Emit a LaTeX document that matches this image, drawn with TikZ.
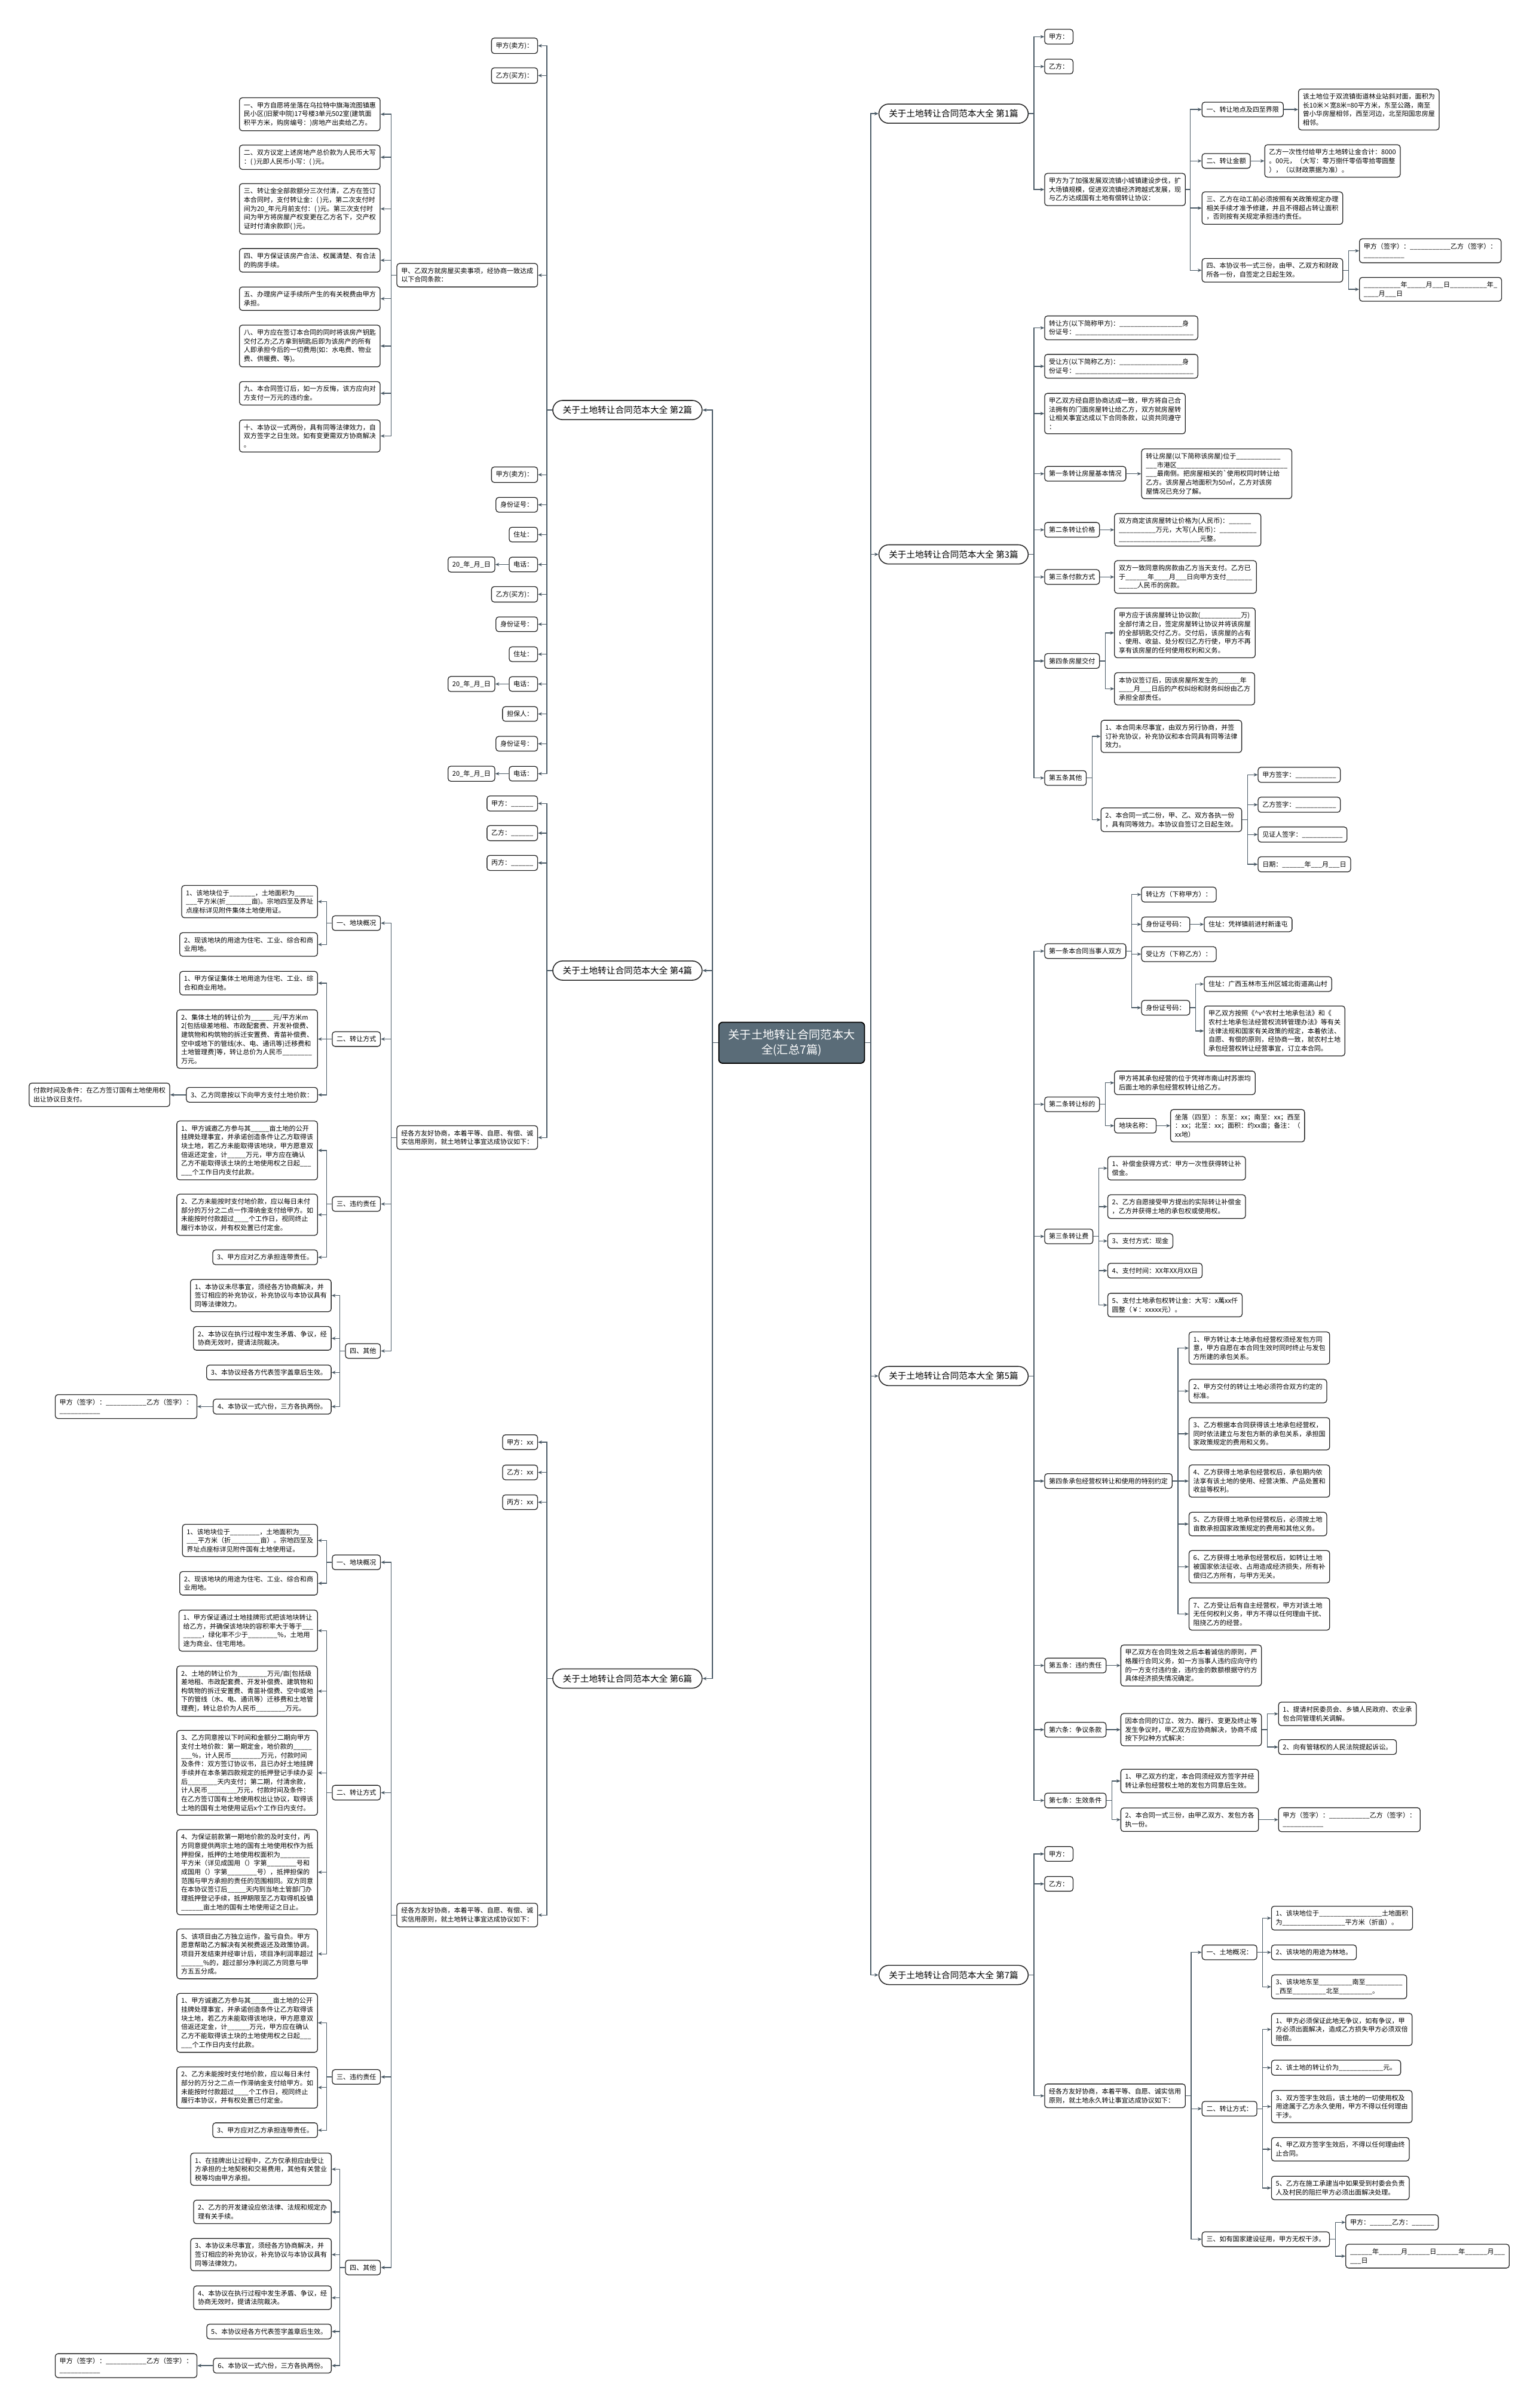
\documentclass[tikz,border=0pt]{standalone}
\usepackage{fontspec}
\setmainfont{Noto Sans CJK SC}
\usetikzlibrary{arrows.meta}
\definecolor{linkc}{RGB}{74,90,102}
\definecolor{boxline}{RGB}{38,38,38}
\definecolor{hubfill}{RGB}{90,108,120}
\newcommand{\blk}[1]{\foreach \bi in {1,...,#1}{\_}}

\begin{document}
\begin{tikzpicture}[x=1pt,y=-1pt,>={Stealth[length=2.6pt,width=2.2pt]},
  box/.style={draw=boxline,fill=white,rounded corners=1.8pt,line width=0.5pt,align=left,
    inner xsep=2.8pt,inner ysep=2.8pt,font=\fontsize{4.3}{5.7}\selectfont},
  pill/.style={draw=boxline,fill=white,rounded corners=6.4pt,line width=0.6pt,
    inner xsep=6.5pt,inner ysep=3.6pt,font=\fontsize{5.7}{6.8}\selectfont},
  hub/.style={draw=black,fill=hubfill,text=white,rounded corners=2.5pt,line width=0.7pt,
    align=center,inner xsep=6.2pt,inner ysep=4.6pt,font=\fontsize{7.5}{9.7}\selectfont},
  link/.style={draw=linkc,line width=0.55pt,->}]

\fill[white] (0,0) rectangle (996,1568);
\useasboundingbox (0,0) rectangle (996,1568);

\node[hub] (root) at (515.5,679) {关于土地转让合同范本大\\全(汇总7篇)};

\node[pill,anchor=west] (a1) at (572,74) {关于土地转让合同范本大全 第1篇};
\node[pill,anchor=west] (a3) at (572,361) {关于土地转让合同范本大全 第3篇};
\node[pill,anchor=west] (a5) at (572,896) {关于土地转让合同范本大全 第5篇};
\node[pill,anchor=west] (a7) at (572,1286) {关于土地转让合同范本大全 第7篇};
\node[pill,anchor=east] (a2) at (457.5,267) {关于土地转让合同范本大全 第2篇};
\node[pill,anchor=east] (a4) at (457.5,632) {关于土地转让合同范本大全 第4篇};
\node[pill,anchor=east] (a6) at (457.5,1093) {关于土地转让合同范本大全 第6篇};

\draw[link] (root.east) -- ++(3.8,0) |- (a1.west);
\draw[link] (root.east) -- ++(3.8,0) |- (a3.west);
\draw[link] (root.east) -- ++(3.8,0) |- (a5.west);
\draw[link] (root.east) -- ++(3.8,0) |- (a7.west);
\draw[link] (root.west) -- ++(-3.8,0) |- (a2.east);
\draw[link] (root.west) -- ++(-3.8,0) |- (a4.east);
\draw[link] (root.west) -- ++(-3.8,0) |- (a6.east);

\node[box,anchor=west] (b1jia) at (680,23.9) {甲方：};
\node[box,anchor=west] (b1yi) at (680,43.3) {乙方：};
\node[box,anchor=west] (b1main) at (680,123.4) {甲方为了加强发展双流镇小城镇建设步伐，扩\\大场镇规模，促进双流镇经济跨越式发展，现\\与乙方达成国有土地有偿转让协议：};
\node[box,anchor=west] (b1s1) at (782.5,71.3) {一、转让地点及四至界限};
\node[box,anchor=west] (b1s1x) at (845.3,71.3) {该土地位于双流镇街道林业站斜对面，面积为\\长10米×宽8米=80平方米，东至公路，南至\\曾小华房屋相邻，西至河边，北至阳国忠房屋\\相邻。};
\node[box,anchor=west] (b1s2) at (782.5,104.8) {二、转让金额};
\node[box,anchor=west] (b1s2x) at (823.3,104.8) {乙方一次性付给甲方土地转让金合计：8000\\。00元，（大写：零万捌仟零佰零拾零圆整\\），（以财政票据为准）。};
\node[box,anchor=west] (b1s3) at (782.5,135.5) {三、乙方在动工前必须按照有关政策规定办理\\相关手续才准予修建，并且不得超占转让面积\\，否则按有关规定承担违约责任。};
\node[box,anchor=west] (b1s4) at (782.5,176) {四、本协议书一式三份，由甲、乙双方和财政\\所各一份，自签定之日起生效。};
\node[box,anchor=west] (b1s4a) at (885,163.3) {甲方（签字）：\blk{11}乙方（签字）：\\\blk{11}};
\node[box,anchor=west] (b1s4b) at (885,188.4) {\blk{10}年\blk{5}月\blk{3}日\blk{10}年\_\\\blk{4}月\blk{3}日};

\draw[link] (a1.east) -- ++(3.5,0) |- (b1jia.west);
\draw[link] (a1.east) -- ++(3.5,0) |- (b1yi.west);
\draw[link] (a1.east) -- ++(3.5,0) |- (b1main.west);
\draw[link] (b1main.east) -- ++(3,0) |- (b1s1.west);
\draw[link] (b1main.east) -- ++(3,0) |- (b1s2.west);
\draw[link] (b1main.east) -- ++(3,0) |- (b1s3.west);
\draw[link] (b1main.east) -- ++(3,0) |- (b1s4.west);
\draw[link] (b1s1.east) -- (b1s1x.west);
\draw[link] (b1s2.east) -- (b1s2x.west);
\draw[link] (b1s4.east) -- ++(3.5,0) |- (b1s4a.west);
\draw[link] (b1s4.east) -- ++(3.5,0) |- (b1s4b.west);

\node[box,anchor=west] (b3p1) at (680,213.5) {转让方(以下简称甲方)：\blk{17}身\\份证号：\blk{32}};
\node[box,anchor=west] (b3p2) at (680,238.5) {受让方(以下简称乙方)：\blk{17}身\\份证号：\blk{32}};
\node[box,anchor=west] (b3intro) at (680,269.3) {甲乙双方经自愿协商达成一致，甲方将自己合\\法拥有的门面房屋转让给乙方，双方就房屋转\\让相关事宜达成以下合同条款，以资共同遵守\\：};
\node[box,anchor=west] (b3c1) at (680,308.5) {第一条转让房屋基本情况};
\node[box,anchor=west] (b3c1x) at (743.1,308.5) {转让房屋(以下简称该房屋)位于\blk{12}\\\blk{3}市港区\blk{30}\\\blk{3}最南侧。把房屋相关的\textasciigrave 使用权同时转让给\\乙方。该房屋占地面积为50㎡，乙方对该房\\屋情况已充分了解。};
\node[box,anchor=west] (b3c2) at (680,345) {第二条转让价格};
\node[box,anchor=west] (b3c2x) at (725.5,345) {双方商定该房屋转让价格为(人民币)：\blk{6}\\\blk{10}万元，大写(人民币)：\blk{10}\\\blk{22}元整。};
\node[box,anchor=west] (b3c3) at (680,375.7) {第三条付款方式};
\node[box,anchor=west] (b3c3x) at (725.5,375.7) {双方一致同意购房款由乙方当天支付。乙方已\\于\blk{6}年\blk{4}月\blk{3}日向甲方支付\blk{7}\\\blk{5}人民币的房款。};
\node[box,anchor=west] (b3c4) at (680,430.4) {第四条房屋交付};
\node[box,anchor=west] (b3c4a) at (725.5,412.1) {甲方应于该房屋转让协议款(\blk{11}万)\\全部付清之日，签定房屋转让协议并将该房屋\\的全部钥匙交付乙方。交付后，该房屋的占有\\、使用、收益、处分权归乙方行使，甲方不再\\享有该房屋的任何使用权利和义务。};
\node[box,anchor=west] (b3c4b) at (725.5,448.5) {本协议签订后，因该房屋所发生的\blk{6}年\\\blk{4}月\blk{3}日后的产权纠纷和财务纠纷由乙方\\承担全部责任。};
\node[box,anchor=west] (b3c5) at (680,506.6) {第五条其他};
\node[box,anchor=west] (b3c5a) at (716.7,479.5) {1、本合同未尽事宜，由双方另行协商，并签\\订补充协议，补充协议和本合同具有同等法律\\效力。};
\node[box,anchor=west] (b3c5b) at (716.7,533.8) {2、本合同一式二份，甲、乙、双方各执一份\\，具有同等效力。本协议自签订之日起生效。};
\node[box,anchor=west] (b3s1) at (819,504.5) {甲方签字：\blk{11}};
\node[box,anchor=west] (b3s2) at (819,524) {乙方签字：\blk{11}};
\node[box,anchor=west] (b3s3) at (819,543.4) {见证人签字：\blk{11}};
\node[box,anchor=west] (b3s4) at (819,562.8) {日期：\blk{6}年\blk{3}月\blk{3}日};

\draw[link] (a3.east) -- ++(3.5,0) |- (b3p1.west);
\draw[link] (a3.east) -- ++(3.5,0) |- (b3p2.west);
\draw[link] (a3.east) -- ++(3.5,0) |- (b3intro.west);
\draw[link] (a3.east) -- ++(3.5,0) |- (b3c1.west);
\draw[link] (a3.east) -- ++(3.5,0) |- (b3c2.west);
\draw[link] (a3.east) -- ++(3.5,0) |- (b3c3.west);
\draw[link] (a3.east) -- ++(3.5,0) |- (b3c4.west);
\draw[link] (a3.east) -- ++(3.5,0) |- (b3c5.west);
\draw[link] (b3c1.east) -- (b3c1x.west);
\draw[link] (b3c2.east) -- (b3c2x.west);
\draw[link] (b3c3.east) -- (b3c3x.west);
\draw[link] (b3c4.east) -- ++(3.5,0) |- (b3c4a.west);
\draw[link] (b3c4.east) -- ++(3.5,0) |- (b3c4b.west);
\draw[link] (b3c5.east) -- ++(3.5,0) |- (b3c5a.west);
\draw[link] (b3c5.east) -- ++(3.5,0) |- (b3c5b.west);
\draw[link] (b3c5b.east) -- ++(3.5,0) |- (b3s1.west);
\draw[link] (b3c5b.east) -- ++(3.5,0) |- (b3s2.west);
\draw[link] (b3c5b.east) -- ++(3.5,0) |- (b3s3.west);
\draw[link] (b3c5b.east) -- ++(3.5,0) |- (b3s4.west);

\node[box,anchor=west] (b5c1) at (680,619.3) {第一条本合同当事人双方};
\node[box,anchor=west] (b5c1a) at (743.1,582.5) {转让方（下称甲方）：};
\node[box,anchor=west] (b5c1b) at (743.1,601.9) {身份证号码：};
\node[box,anchor=west] (b5c1bx) at (783.9,601.9) {住址：凭祥镇前进村新逢屯};
\node[box,anchor=west] (b5c1c) at (743.1,621.3) {受让方（下称乙方）：};
\node[box,anchor=west] (b5c1d) at (743.1,656.2) {身份证号码：};
\node[box,anchor=west] (b5c1d1) at (783.9,640.8) {住址：广西玉林市玉州区城北街道高山村};
\node[box,anchor=west] (b5c1d2) at (783.9,671.3) {甲乙双方按照《\^{}v\^{}农村土地承包法》和《\\农村土地承包法经营权流转管理办法》等有关\\法律法规和国家有关政策的规定，本着依法、\\自愿、有偿的原则，经协商一致，就农村土地\\承包经营权转让经营事宜，订立本合同。};
\node[box,anchor=west] (b5c2) at (680,719.1) {第二条转让标的};
\node[box,anchor=west] (b5c2a) at (725.5,705.1) {甲方将其承包经营的位于凭祥市南山村苏崇均\\后面土地的承包经营权转让给乙方。};
\node[box,anchor=west] (b5c2b) at (725.5,733) {地块名称：};
\node[box,anchor=west] (b5c2bx) at (762,733) {坐落（四至）：东至：xx；南至：xx；西至\\：xx；北至：xx；面积：约xx亩；备注：（\\xx地）};
\node[box,anchor=west] (b5c3) at (680,805.1) {第三条转让费};
\node[box,anchor=west] (b5c3a) at (721.1,760.7) {1、补偿金获得方式：甲方一次性获得转让补\\偿金。};
\node[box,anchor=west] (b5c3b) at (721.1,785.7) {2、乙方自愿接受甲方提出的实际转让补偿金\\，乙方并获得土地的承包权或使用权。};
\node[box,anchor=west] (b5c3c) at (721.1,808.1) {3、支付方式：现金};
\node[box,anchor=west] (b5c3d) at (721.1,827.4) {4、支付时间：XX年XX月XX日};
\node[box,anchor=west] (b5c3e) at (721.1,849.8) {5、支付土地承包权转让金：大写：x萬xx仟\\圆整（￥：xxxxx元）。};
\node[box,anchor=west] (b5c4) at (680,964.4) {第四条承包经营权转让和使用的特别约定};
\node[box,anchor=west] (b5c4a) at (774,877.8) {1、甲方转让本土地承包经营权须经发包方同\\意，甲方自愿在本合同生效时同时终止与发包\\方所建的承包关系。};
\node[box,anchor=west] (b5c4b) at (774,905.8) {2、甲方交付的转让土地必须符合双方约定的\\标准。};
\node[box,anchor=west] (b5c4c) at (774,933.6) {3、乙方根据本合同获得该土地承包经营权，\\同时依法建立与发包方新的承包关系，承担国\\家政策规定的费用和义务。};
\node[box,anchor=west] (b5c4d) at (774,964.4) {4、乙方获得土地承包经营权后，承包期内依\\法享有该土地的使用、经营决策、产品处置和\\收益等权利。};
\node[box,anchor=west] (b5c4e) at (774,992.4) {5、乙方获得土地承包经营权后，必须按土地\\亩数承担国家政策规定的费用和其他义务。};
\node[box,anchor=west] (b5c4f) at (774,1020.2) {6、乙方获得土地承包经营权后，如转让土地\\被国家依法征收、占用造成经济损失，所有补\\偿归乙方所有，与甲方无关。};
\node[box,anchor=west] (b5c4g) at (774,1051) {7、乙方受让后有自主经营权，甲方对该土地\\无任何权利义务，甲方不得以任何理由干扰、\\阻挠乙方的经营。};
\node[box,anchor=west] (b5c5) at (680,1084.5) {第五条：违约责任};
\node[box,anchor=west] (b5c5x) at (729.6,1084.5) {甲乙双方在合同生效之后本着诚信的原则，严\\格履行合同义务，如一方当事人违约应向守约\\的一方支付违约金，违约金的数额根据守约方\\具体经济损失情况确定。};
\node[box,anchor=west] (b5c6) at (680,1126.3) {第六条：争议条款};
\node[box,anchor=west] (b5c6x) at (729.6,1126.3) {因本合同的订立、效力、履行、变更及终止等\\发生争议时，甲乙双方应协商解决，协商不成\\按下列2种方式解决：};
\node[box,anchor=west] (b5c6a) at (832.3,1116) {1、提请村民委员会、乡镇人民政府、农业承\\包合同管理机关调解。};
\node[box,anchor=west] (b5c6b) at (832.3,1137.6) {2、向有管辖权的人民法院提起诉讼。};
\node[box,anchor=west] (b5c7) at (680,1172.4) {第七条：生效条件};
\node[box,anchor=west] (b5c7a) at (729.6,1159.7) {1、甲乙双方约定，本合同须经双方签字并经\\转让承包经营权土地的发包方同意后生效。};
\node[box,anchor=west] (b5c7b) at (729.6,1184.9) {2、本合同一式三份，由甲乙双方、发包方各\\执一份。};
\node[box,anchor=west] (b5c7bx) at (832.3,1184.9) {甲方（签字）：\blk{11}乙方（签字）：\\\blk{11}};

\draw[link] (a5.east) -- ++(3.5,0) |- (b5c1.west);
\draw[link] (a5.east) -- ++(3.5,0) |- (b5c2.west);
\draw[link] (a5.east) -- ++(3.5,0) |- (b5c3.west);
\draw[link] (a5.east) -- ++(3.5,0) |- (b5c4.west);
\draw[link] (a5.east) -- ++(3.5,0) |- (b5c5.west);
\draw[link] (a5.east) -- ++(3.5,0) |- (b5c6.west);
\draw[link] (a5.east) -- ++(3.5,0) |- (b5c7.west);
\draw[link] (b5c1.east) -- ++(3.5,0) |- (b5c1a.west);
\draw[link] (b5c1.east) -- ++(3.5,0) |- (b5c1b.west);
\draw[link] (b5c1.east) -- ++(3.5,0) |- (b5c1c.west);
\draw[link] (b5c1.east) -- ++(3.5,0) |- (b5c1d.west);
\draw[link] (b5c1b.east) -- (b5c1bx.west);
\draw[link] (b5c1d.east) -- ++(3.5,0) |- (b5c1d1.west);
\draw[link] (b5c1d.east) -- ++(3.5,0) |- (b5c1d2.west);
\draw[link] (b5c2.east) -- ++(3.5,0) |- (b5c2a.west);
\draw[link] (b5c2.east) -- ++(3.5,0) |- (b5c2b.west);
\draw[link] (b5c2b.east) -- (b5c2bx.west);
\draw[link] (b5c3.east) -- ++(3.5,0) |- (b5c3a.west);
\draw[link] (b5c3.east) -- ++(3.5,0) |- (b5c3b.west);
\draw[link] (b5c3.east) -- ++(3.5,0) |- (b5c3c.west);
\draw[link] (b5c3.east) -- ++(3.5,0) |- (b5c3d.west);
\draw[link] (b5c3.east) -- ++(3.5,0) |- (b5c3e.west);
\draw[link] (b5c4.east) -- ++(3.5,0) |- (b5c4a.west);
\draw[link] (b5c4.east) -- ++(3.5,0) |- (b5c4b.west);
\draw[link] (b5c4.east) -- ++(3.5,0) |- (b5c4c.west);
\draw[link] (b5c4.east) -- ++(3.5,0) |- (b5c4d.west);
\draw[link] (b5c4.east) -- ++(3.5,0) |- (b5c4e.west);
\draw[link] (b5c4.east) -- ++(3.5,0) |- (b5c4f.west);
\draw[link] (b5c4.east) -- ++(3.5,0) |- (b5c4g.west);
\draw[link] (b5c5.east) -- (b5c5x.west);
\draw[link] (b5c6.east) -- (b5c6x.west);
\draw[link] (b5c6x.east) -- ++(3.5,0) |- (b5c6a.west);
\draw[link] (b5c6x.east) -- ++(3.5,0) |- (b5c6b.west);
\draw[link] (b5c7.east) -- ++(3.5,0) |- (b5c7a.west);
\draw[link] (b5c7.east) -- ++(3.5,0) |- (b5c7b.west);
\draw[link] (b5c7b.east) -- (b5c7bx.west);

\node[box,anchor=west] (b7jia) at (680,1207.2) {甲方：};
\node[box,anchor=west] (b7yi) at (680,1226.7) {乙方：};
\node[box,anchor=west] (b7main) at (680,1364.7) {经各方友好协商，本着平等、自愿、诚实信用\\原则，就土地永久转让事宜达成协议如下：};
\node[box,anchor=west] (b7s1) at (782.5,1271.3) {一、土地概况：};
\node[box,anchor=west] (b7s1a) at (827.7,1249) {1、该块地位于\blk{17}土地面积\\为\blk{17}平方米（折亩）。};
\node[box,anchor=west] (b7s1b) at (827.7,1271.3) {2、该块地的用途为林地。};
\node[box,anchor=west] (b7s1c) at (827.7,1293.7) {3、该块地东至\blk{9}南至\blk{10}\\\_西至\blk{9}北至\blk{9}。};
\node[box,anchor=west] (b7s2) at (782.5,1373.1) {二、转让方式：};
\node[box,anchor=west] (b7s2a) at (827.7,1321.5) {1、甲方必须保证此地无争议，如有争议，甲\\方必须出面解决，造成乙方损失甲方必须双倍\\赔偿。};
\node[box,anchor=west] (b7s2b) at (827.7,1346.4) {2、该土地的转让价为\blk{12}元。};
\node[box,anchor=west] (b7s2c) at (827.7,1371.7) {3、双方签字生效后，该土地的一切使用权及\\用途属于乙方永久使用，甲方不得以任何理由\\干涉。};
\node[box,anchor=west] (b7s2d) at (827.7,1399.5) {4、甲乙双方签字生效后，不得以任何理由终\\止合同。};
\node[box,anchor=west] (b7s2e) at (827.7,1424.7) {5、乙方在施工承建当中如果受到村委会负责\\人及村民的阻拦甲方必须出面解决处理。};
\node[box,anchor=west] (b7s3) at (782.5,1458.1) {三、如有国家建设征用，甲方无权干涉。};
\node[box,anchor=west] (b7s3a) at (876.1,1447.1) {甲方：\blk{6}乙方：\blk{6}};
\node[box,anchor=west] (b7s3b) at (876.1,1469.1) {\blk{6}年\blk{6}月\blk{6}日\blk{6}年\blk{6}月\blk{3}\\\blk{3}日};

\draw[link] (a7.east) -- ++(3.5,0) |- (b7jia.west);
\draw[link] (a7.east) -- ++(3.5,0) |- (b7yi.west);
\draw[link] (a7.east) -- ++(3.5,0) |- (b7main.west);
\draw[link] (b7main.east) -- ++(3.5,0) |- (b7s1.west);
\draw[link] (b7main.east) -- ++(3.5,0) |- (b7s2.west);
\draw[link] (b7main.east) -- ++(3.5,0) |- (b7s3.west);
\draw[link] (b7s1.east) -- ++(3.5,0) |- (b7s1a.west);
\draw[link] (b7s1.east) -- ++(3.5,0) |- (b7s1b.west);
\draw[link] (b7s1.east) -- ++(3.5,0) |- (b7s1c.west);
\draw[link] (b7s2.east) -- ++(3.5,0) |- (b7s2a.west);
\draw[link] (b7s2.east) -- ++(3.5,0) |- (b7s2b.west);
\draw[link] (b7s2.east) -- ++(3.5,0) |- (b7s2c.west);
\draw[link] (b7s2.east) -- ++(3.5,0) |- (b7s2d.west);
\draw[link] (b7s2.east) -- ++(3.5,0) |- (b7s2e.west);
\draw[link] (b7s3.east) -- ++(3.5,0) |- (b7s3a.west);
\draw[link] (b7s3.east) -- ++(3.5,0) |- (b7s3b.west);

\node[box,anchor=east] (c2jia) at (350.3,29.8) {甲方(卖方)：};
\node[box,anchor=east] (c2yi) at (350.3,49.2) {乙方(买方)：};
\node[box,anchor=east] (c2main) at (350.3,179.2) {甲、乙双方就房屋买卖事项，经协商一致达成\\以下合同条款：};
\node[box,anchor=east] (c2t1) at (247.8,74.4) {一、甲方自愿将坐落在乌拉特中旗海流图镇惠\\民小区(旧蒙中院)17号楼3单元502室(建筑面\\积平方米，购房编号：)房地产出卖给乙方。};
\node[box,anchor=east] (c2t2) at (247.8,102.4) {二、双方议定上述房地产总价款为人民币大写\\：( )元即人民币小写：( )元。};
\node[box,anchor=east] (c2t3) at (247.8,136) {三、转让金全部款额分三次付清，乙方在签订\\本合同时，支付转让金：( )元，第二次支付时\\间为20\_年元月前支付：( )元。第三次支付时\\间为甲方将房屋产权变更在乙方名下，交产权\\证时付清余款即( )元。};
\node[box,anchor=east] (c2t4) at (247.8,169.5) {四、甲方保证该房产合法、权属清楚、有合法\\的购房手续。};
\node[box,anchor=east] (c2t5) at (247.8,194.5) {五、办理房产证手续所产生的有关税费由甲方\\承担。};
\node[box,anchor=east] (c2t6) at (247.8,225.3) {八、甲方应在签订本合同的同时将该房产钥匙\\交付乙方;乙方拿到钥匙后即为该房产的所有\\人即承担今后的一切费用(如：水电费、物业\\费、供暖费、等)。};
\node[box,anchor=east] (c2t7) at (247.8,256.1) {九、本合同签订后，如一方反悔，该方应向对\\方支付一万元的违约金。};
\node[box,anchor=east] (c2t8) at (247.8,283.9) {十、本协议一式两份，具有同等法律效力，自\\双方签字之日生效。如有变更需双方协商解决\\。};
\node[box,anchor=east] (c2f1) at (350.3,309.1) {甲方(卖方)：};
\node[box,anchor=east] (c2f2) at (350.3,328.7) {身份证号：};
\node[box,anchor=east] (c2f3) at (350.3,348.1) {住址：};
\node[box,anchor=east] (c2f4) at (350.3,367.6) {电话：};
\node[box,anchor=east] (c2f4d) at (322.5,367.6) {20\_年\_月\_日};
\node[box,anchor=east] (c2f5) at (350.3,387) {乙方(买方)：};
\node[box,anchor=east] (c2f6) at (350.3,406.5) {身份证号：};
\node[box,anchor=east] (c2f7) at (350.3,426) {住址：};
\node[box,anchor=east] (c2f8) at (350.3,445.4) {电话：};
\node[box,anchor=east] (c2f8d) at (322.5,445.4) {20\_年\_月\_日};
\node[box,anchor=east] (c2f9) at (350.3,464.9) {担保人：};
\node[box,anchor=east] (c2f10) at (350.3,484.3) {身份证号：};
\node[box,anchor=east] (c2f11) at (350.3,503.8) {电话：};
\node[box,anchor=east] (c2f11d) at (322.5,503.8) {20\_年\_月\_日};

\draw[link] (a2.west) -- ++(-3.5,0) |- (c2jia.east);
\draw[link] (a2.west) -- ++(-3.5,0) |- (c2yi.east);
\draw[link] (a2.west) -- ++(-3.5,0) |- (c2main.east);
\draw[link] (a2.west) -- ++(-3.5,0) |- (c2f1.east);
\draw[link] (a2.west) -- ++(-3.5,0) |- (c2f2.east);
\draw[link] (a2.west) -- ++(-3.5,0) |- (c2f3.east);
\draw[link] (a2.west) -- ++(-3.5,0) |- (c2f4.east);
\draw[link] (a2.west) -- ++(-3.5,0) |- (c2f5.east);
\draw[link] (a2.west) -- ++(-3.5,0) |- (c2f6.east);
\draw[link] (a2.west) -- ++(-3.5,0) |- (c2f7.east);
\draw[link] (a2.west) -- ++(-3.5,0) |- (c2f8.east);
\draw[link] (a2.west) -- ++(-3.5,0) |- (c2f9.east);
\draw[link] (a2.west) -- ++(-3.5,0) |- (c2f10.east);
\draw[link] (a2.west) -- ++(-3.5,0) |- (c2f11.east);
\draw[link] (c2main.west) -- ++(-3.5,0) |- (c2t1.east);
\draw[link] (c2main.west) -- ++(-3.5,0) |- (c2t2.east);
\draw[link] (c2main.west) -- ++(-3.5,0) |- (c2t3.east);
\draw[link] (c2main.west) -- ++(-3.5,0) |- (c2t4.east);
\draw[link] (c2main.west) -- ++(-3.5,0) |- (c2t5.east);
\draw[link] (c2main.west) -- ++(-3.5,0) |- (c2t6.east);
\draw[link] (c2main.west) -- ++(-3.5,0) |- (c2t7.east);
\draw[link] (c2main.west) -- ++(-3.5,0) |- (c2t8.east);
\draw[link] (c2f4.west) -- (c2f4d.east);
\draw[link] (c2f8.west) -- (c2f8d.east);
\draw[link] (c2f11.west) -- (c2f11d.east);

\node[box,anchor=east] (c4jia) at (350.3,523.2) {甲方：\blk{6}};
\node[box,anchor=east] (c4yi) at (350.3,542.5) {乙方：\blk{6}};
\node[box,anchor=east] (c4bing) at (350.3,561.9) {丙方：\blk{6}};
\node[box,anchor=east] (c4main) at (350.3,740.7) {经各方友好协商，本着平等、自愿、有偿、诚\\实信用原则，就土地转让事宜达成协议如下：};
\node[box,anchor=east] (c4s1) at (248,601.1) {一、地块概况};
\node[box,anchor=east] (c4s1a) at (207,587.1) {1、该地块位于\blk{7}，土地面积为\blk{5}\\\blk{3}平方米(折\blk{7}亩)。宗地四至及界址\\点座标详见附件集体土地使用证。};
\node[box,anchor=east] (c4s1b) at (207,615) {2、现该地块的用途为住宅、工业、综合和商\\业用地。};
\node[box,anchor=east] (c4s2) at (248,676.6) {二、转让方式};
\node[box,anchor=east] (c4s2a) at (207,640.2) {1、甲方保证集体土地用途为住宅、工业、综\\合和商业用地。};
\node[box,anchor=east] (c4s2b) at (207,676.6) {2、集体土地的转让价为\blk{6}元/平方米m\\2[包括级差地租、市政配套费、开发补偿费、\\建筑物和构筑物的拆迁安置费、青苗补偿费、\\空中或地下的管线(水、电、通讯等)迁移费和\\土地管理费]等，转让总价为人民币\blk{8}\\万元。};
\node[box,anchor=east] (c4s2c) at (207,712.9) {3、乙方同意按以下向甲方支付土地价款：};
\node[box,anchor=east] (c4s2cx) at (110.8,712.9) {付款时间及条件：在乙方签订国有土地使用权\\出让协议日支付。};
\node[box,anchor=east] (c4s3) at (248,784) {三、违约责任};
\node[box,anchor=east] (c4s3a) at (207,749.1) {1、甲方诚邀乙方参与其\blk{5}亩土地的公开\\挂牌处理事宜，并承诺创造条件让乙方取得该\\块土地，若乙方未能取得该地块，甲方愿意双\\倍返还定金，计\blk{5}万元，甲方应在确认\\乙方不能取得该土块的土地使用权之日起\blk{3}\\\blk{3}个工作日内支付此款。};
\node[box,anchor=east] (c4s3b) at (207,791) {2、乙方未能按时支付地价款，应以每日未付\\部分的万分之二点一作滞纳金支付给甲方。如\\未能按时付款超过\blk{4}个工作日，视同终止\\履行本协议，并有权处置已付定金。};
\node[box,anchor=east] (c4s3c) at (207,818.7) {3、甲方应对乙方承担连带责任。};
\node[box,anchor=east] (c4s4) at (248,879.7) {四、其他};
\node[box,anchor=east] (c4s4a) at (215.9,843.6) {1、本协议未尽事宜，须经各方协商解决，并\\签订相应的补充协议，补充协议与本协议具有\\同等法律效力。};
\node[box,anchor=east] (c4s4b) at (215.9,871.5) {2、本协议在执行过程中发生矛盾、争议，经\\协商无效时，提请法院裁决。};
\node[box,anchor=east] (c4s4c) at (215.9,893.7) {3、本协议经各方代表签字盖章后生效。};
\node[box,anchor=east] (c4s4d) at (215.9,915.9) {4、本协议一式六份，三方各执两份。};
\node[box,anchor=east] (c4s4dx) at (128.5,915.9) {甲方（签字）：\blk{11}乙方（签字）：\\\blk{11}};

\draw[link] (a4.west) -- ++(-3.5,0) |- (c4jia.east);
\draw[link] (a4.west) -- ++(-3.5,0) |- (c4yi.east);
\draw[link] (a4.west) -- ++(-3.5,0) |- (c4bing.east);
\draw[link] (a4.west) -- ++(-3.5,0) |- (c4main.east);
\draw[link] (c4main.west) -- ++(-3.5,0) |- (c4s1.east);
\draw[link] (c4main.west) -- ++(-3.5,0) |- (c4s2.east);
\draw[link] (c4main.west) -- ++(-3.5,0) |- (c4s3.east);
\draw[link] (c4main.west) -- ++(-3.5,0) |- (c4s4.east);
\draw[link] (c4s1.west) -- ++(-3.5,0) |- (c4s1a.east);
\draw[link] (c4s1.west) -- ++(-3.5,0) |- (c4s1b.east);
\draw[link] (c4s2.west) -- ++(-3.5,0) |- (c4s2a.east);
\draw[link] (c4s2.west) -- ++(-3.5,0) |- (c4s2b.east);
\draw[link] (c4s2.west) -- ++(-3.5,0) |- (c4s2c.east);
\draw[link] (c4s2c.west) -- (c4s2cx.east);
\draw[link] (c4s3.west) -- ++(-3.5,0) |- (c4s3a.east);
\draw[link] (c4s3.west) -- ++(-3.5,0) |- (c4s3b.east);
\draw[link] (c4s3.west) -- ++(-3.5,0) |- (c4s3c.east);
\draw[link] (c4s4.west) -- ++(-3.5,0) |- (c4s4a.east);
\draw[link] (c4s4.west) -- ++(-3.5,0) |- (c4s4b.east);
\draw[link] (c4s4.west) -- ++(-3.5,0) |- (c4s4c.east);
\draw[link] (c4s4.west) -- ++(-3.5,0) |- (c4s4d.east);
\draw[link] (c4s4d.west) -- (c4s4dx.east);

\node[box,anchor=east] (c6jia) at (350.3,939.1) {甲方：xx};
\node[box,anchor=east] (c6yi) at (350.3,958.8) {乙方：xx};
\node[box,anchor=east] (c6bing) at (350.3,978.2) {丙方：xx};
\node[box,anchor=east] (c6main) at (350.3,1247) {经各方友好协商，本着平等、自愿、有偿、诚\\实信用原则，就土地转让事宜达成协议如下：};
\node[box,anchor=east] (c6s1) at (248,1017.3) {一、地块概况};
\node[box,anchor=east] (c6s1a) at (207,1003.1) {1、该地块位于\blk{8}，土地面积为\blk{3}\\\blk{3}平方米（折\blk{8}亩）。宗地四至及\\界址点座标详见附件国有土地使用证。};
\node[box,anchor=east] (c6s1b) at (207,1031) {2、现该地块的用途为住宅、工业、综合和商\\业用地。};
\node[box,anchor=east] (c6s2) at (248,1167.3) {二、转让方式};
\node[box,anchor=east] (c6s2a) at (207,1061.8) {1、甲方保证通过土地挂牌形式把该地块转让\\给乙方，并确保该地块的容积率大于等于\blk{3}\\\blk{5}，绿化率不少于\blk{8}\%，土地用\\途为商业、住宅用地。};
\node[box,anchor=east] (c6s2b) at (207,1101.2) {2、土地的转让价为\blk{8}万元/亩[包括级\\差地租、市政配套费、开发补偿费、建筑物和\\构筑物的拆迁安置费、青苗补偿费、空中或地\\下的管线（水、电、通讯等）迁移费和土地管\\理费]，转让总价为人民币\blk{8}万元。};
\node[box,anchor=east] (c6s2c) at (207,1154.4) {3、乙方同意按以下时间和金额分二期向甲方\\支付土地价款：第一期定金，地价款的\blk{5}\\\blk{3}\%，计人民币\blk{8}万元，付款时间\\及条件：双方签订协议书，且已办好土地挂牌\\手续并在本条第四款规定的抵押登记手续办妥\\后\blk{8}天内支付；第二期，付清余款，\\计人民币\blk{8}万元，付款时间及条件：\\在乙方签订国有土地使用权出让协议，取得该\\土地的国有土地使用证后x个工作日内支付。};
\node[box,anchor=east] (c6s2d) at (207,1219.1) {4、为保证前款第一期地价款的及时支付，丙\\方同意提供两宗土地的国有土地使用权作为抵\\押担保，抵押的土地使用权面积为\blk{8}\\平方米（详见成国用（）字第\blk{8}号和\\成国用（）字第\blk{8}号），抵押担保的\\范围与甲方承担的责任的范围相同。双方同意\\在本协议签订后\blk{5}天内到当地土管部门办\\理抵押登记手续，抵押期限至乙方取得机投镇\\\blk{6}亩土地的国有土地使用证之日止。};
\node[box,anchor=east] (c6s2e) at (207,1272.3) {5、该项目由乙方独立运作，盈亏自负。甲方\\愿意帮助乙方解决有关税费返还及政策协调。\\项目开发结束并经审计后，项目净利润率超过\\\blk{6}\%的，超过部分净利润乙方同意与甲\\方五五分成。};
\node[box,anchor=east] (c6s3) at (248,1352.4) {三、违约责任};
\node[box,anchor=east] (c6s3a) at (207,1317.2) {1、甲方诚邀乙方参与其\blk{6}亩土地的公开\\挂牌处理事宜，并承诺创造条件让乙方取得该\\块土地，若乙方未能取得该地块，甲方愿意双\\倍返还定金，计\blk{6}万元，甲方应在确认\\乙方不能取得该土块的土地使用权之日起\blk{3}\\\blk{3}个工作日内支付此款。};
\node[box,anchor=east] (c6s3b) at (207,1359.3) {2、乙方未能按时支付地价款，应以每日未付\\部分的万分之二点一作滞纳金支付给甲方。如\\未能按时付款超过\blk{4}个工作日，视同终止\\履行本协议，并有权处置已付定金。};
\node[box,anchor=east] (c6s3c) at (207,1387.1) {3、甲方应对乙方承担连带责任。};
\node[box,anchor=east] (c6s4) at (248,1476.5) {四、其他};
\node[box,anchor=east] (c6s4a) at (216,1412.5) {1、在挂牌出让过程中，乙方仅承担应由受让\\方承担的土地契税和交易费用，其他有关营业\\税等均由甲方承担。};
\node[box,anchor=east] (c6s4b) at (216,1440.3) {2、乙方的开发建设应依法律、法规和规定办\\理有关手续。};
\node[box,anchor=east] (c6s4c) at (216,1468.1) {3、本协议未尽事宜，须经各方协商解决，并\\签订相应的补充协议，补充协议与本协议具有\\同等法律效力。};
\node[box,anchor=east] (c6s4d) at (216,1496.2) {4、本协议在执行过程中发生矛盾、争议，经\\协商无效时，提请法院裁决。};
\node[box,anchor=east] (c6s4e) at (216,1518.2) {5、本协议经各方代表签字盖章后生效。};
\node[box,anchor=east] (c6s4f) at (216,1540.4) {6、本协议一式六份，三方各执两份。};
\node[box,anchor=east] (c6s4fx) at (128.5,1540.4) {甲方（签字）：\blk{11}乙方（签字）：\\\blk{11}};

\draw[link] (a6.west) -- ++(-3.5,0) |- (c6jia.east);
\draw[link] (a6.west) -- ++(-3.5,0) |- (c6yi.east);
\draw[link] (a6.west) -- ++(-3.5,0) |- (c6bing.east);
\draw[link] (a6.west) -- ++(-3.5,0) |- (c6main.east);
\draw[link] (c6main.west) -- ++(-3.5,0) |- (c6s1.east);
\draw[link] (c6main.west) -- ++(-3.5,0) |- (c6s2.east);
\draw[link] (c6main.west) -- ++(-3.5,0) |- (c6s3.east);
\draw[link] (c6main.west) -- ++(-3.5,0) |- (c6s4.east);
\draw[link] (c6s1.west) -- ++(-3.5,0) |- (c6s1a.east);
\draw[link] (c6s1.west) -- ++(-3.5,0) |- (c6s1b.east);
\draw[link] (c6s2.west) -- ++(-3.5,0) |- (c6s2a.east);
\draw[link] (c6s2.west) -- ++(-3.5,0) |- (c6s2b.east);
\draw[link] (c6s2.west) -- ++(-3.5,0) |- (c6s2c.east);
\draw[link] (c6s2.west) -- ++(-3.5,0) |- (c6s2d.east);
\draw[link] (c6s2.west) -- ++(-3.5,0) |- (c6s2e.east);
\draw[link] (c6s3.west) -- ++(-3.5,0) |- (c6s3a.east);
\draw[link] (c6s3.west) -- ++(-3.5,0) |- (c6s3b.east);
\draw[link] (c6s3.west) -- ++(-3.5,0) |- (c6s3c.east);
\draw[link] (c6s4.west) -- ++(-3.5,0) |- (c6s4a.east);
\draw[link] (c6s4.west) -- ++(-3.5,0) |- (c6s4b.east);
\draw[link] (c6s4.west) -- ++(-3.5,0) |- (c6s4c.east);
\draw[link] (c6s4.west) -- ++(-3.5,0) |- (c6s4d.east);
\draw[link] (c6s4.west) -- ++(-3.5,0) |- (c6s4e.east);
\draw[link] (c6s4.west) -- ++(-3.5,0) |- (c6s4f.east);
\draw[link] (c6s4f.west) -- (c6s4fx.east);
\end{tikzpicture}
\end{document}
